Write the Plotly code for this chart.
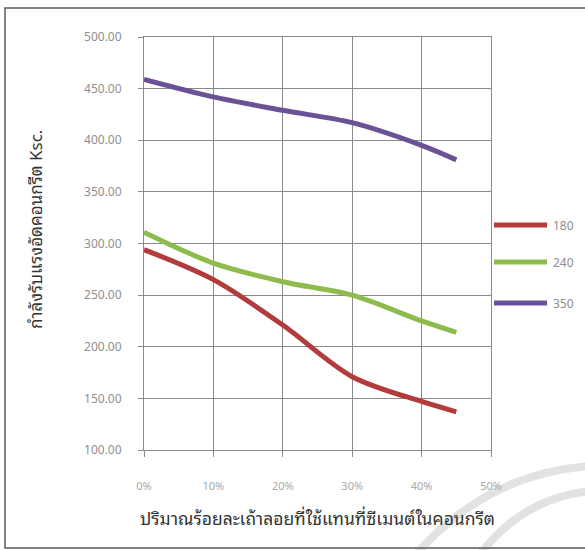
import plotly.graph_objects as go

# Fly-ash replacement (% of cement) and compressive strength (ksc) per mix grade
fly_ash_pct = [0, 10, 20, 30, 40, 45]
strength_180 = [294, 265, 221, 171, 147, 137]
strength_240 = [311, 281, 263, 250, 225, 214]
strength_350 = [459, 442, 429, 417, 395, 381]

series_names = ["180", "240", "350"]
series_values = [strength_180, strength_240, strength_350]
series_colors = ["#B23B3B", "#8DBB4C", "#6B5296"]

x_ticks = [0, 10, 20, 30, 40, 50]
x_tick_text = ["0%", "10%", "20%", "30%", "40%", "50%"]
y_ticks = [100, 150, 200, 250, 300, 350, 400, 450, 500]

x_title = "ปริมาณร้อยละเถ้าลอยที่ใช้แทนที่ซีเมนต์ในคอนกรีต"
y_title = "กำลังรับแรงอัดคอนกรีต Ksc."

W, H = 585, 550
ML, MR, MT, MB = 144, 94, 37, 100
PW, PH = W - ML - MR, H - MT - MB

THAI_FONT = "Noto Sans Thai Looped, Loma, Tahoma, Garuda, Noto Sans Thai, sans-serif"


def px_x(px):
    return (px - ML) / PW


def px_y(py):
    return (H - MB - py) / PH


fig = go.Figure()
for name, vals, color in zip(series_names, series_values, series_colors):
    fig.add_trace(go.Scatter(
        x=fly_ash_pct, y=vals, name=name, mode="lines",
        line=dict(color=color, width=5, shape="spline", smoothing=0.9),
        showlegend=False,
    ))

shapes = []
annotations = []

# Legend drawn as long line swatches with labels
legend_rows = [225, 262, 303]
for name, color, row in zip(series_names, series_colors, legend_rows):
    shapes.append(dict(type="line", xref="paper", yref="paper",
                       x0=px_x(494), x1=px_x(547), y0=px_y(row), y1=px_y(row),
                       line=dict(color=color, width=5)))
    annotations.append(dict(xref="paper", yref="paper", x=px_x(551), y=px_y(row),
                            text=name, showarrow=False, xanchor="left", yanchor="middle",
                            font=dict(family="Noto Sans, sans-serif", size=12, color="#8f8f8f")))

# Vertical axis title placed beside the tick labels
annotations.append(dict(xref="paper", yref="paper", x=px_x(34), y=px_y(230),
                        text=y_title, textangle=-90, showarrow=False,
                        xanchor="center", yanchor="middle",
                        font=dict(family=THAI_FONT, size=17, color="#333333")))


# Decorative light arcs in the lower right corner
def arc_path(p0, c, p1):
    return (f"M {px_x(p0[0])},{px_y(p0[1])} Q {px_x(c[0])},{px_y(c[1])} "
            f"{px_x(p1[0])},{px_y(p1[1])}")


shapes.append(dict(type="path", xref="paper", yref="paper", layer="below",
                   path=arc_path((592, 466), (490, 472), (418, 552)),
                   line=dict(color="#e2e2e2", width=8)))
shapes.append(dict(type="path", xref="paper", yref="paper", layer="below",
                   path=arc_path((592, 491), (525, 497), (482, 552)),
                   line=dict(color="#e2e2e2", width=8)))

# Outer frame
shapes.append(dict(type="rect", xref="paper", yref="paper",
                   x0=px_x(5), x1=px_x(600), y0=px_y(548), y1=px_y(8),
                   line=dict(color="#5a5a5a", width=1.5)))

axis_common = dict(
    showgrid=True, gridcolor="#8a8a8a", gridwidth=1,
    showline=True, linecolor="#8a8a8a", linewidth=1, mirror=True,
    ticks="outside", tickcolor="#8a8a8a", zeroline=False,
)

fig.update_layout(
    width=W, height=H,
    margin=dict(l=ML, r=MR, t=MT, b=MB),
    paper_bgcolor="white", plot_bgcolor="white",
    shapes=shapes, annotations=annotations,
    xaxis=dict(
        range=[0, 50], tickvals=x_ticks, ticktext=x_tick_text, ticklen=6,
        ticklabelstandoff=20,
        tickfont=dict(family="Noto Sans, sans-serif", size=11, color="#a8a8a8"),
        title=dict(text=x_title,
                   font=dict(family=THAI_FONT, size=17.5, color="#333333"), standoff=20),
        **axis_common,
    ),
    yaxis=dict(
        range=[100, 500], tickvals=y_ticks, tickformat=".2f", ticklen=5,
        ticklabelstandoff=14,
        tickfont=dict(family="Noto Sans, sans-serif", size=12, color="#8f8f8f"),
        **axis_common,
    ),
)

fig.write_html("out.html")
